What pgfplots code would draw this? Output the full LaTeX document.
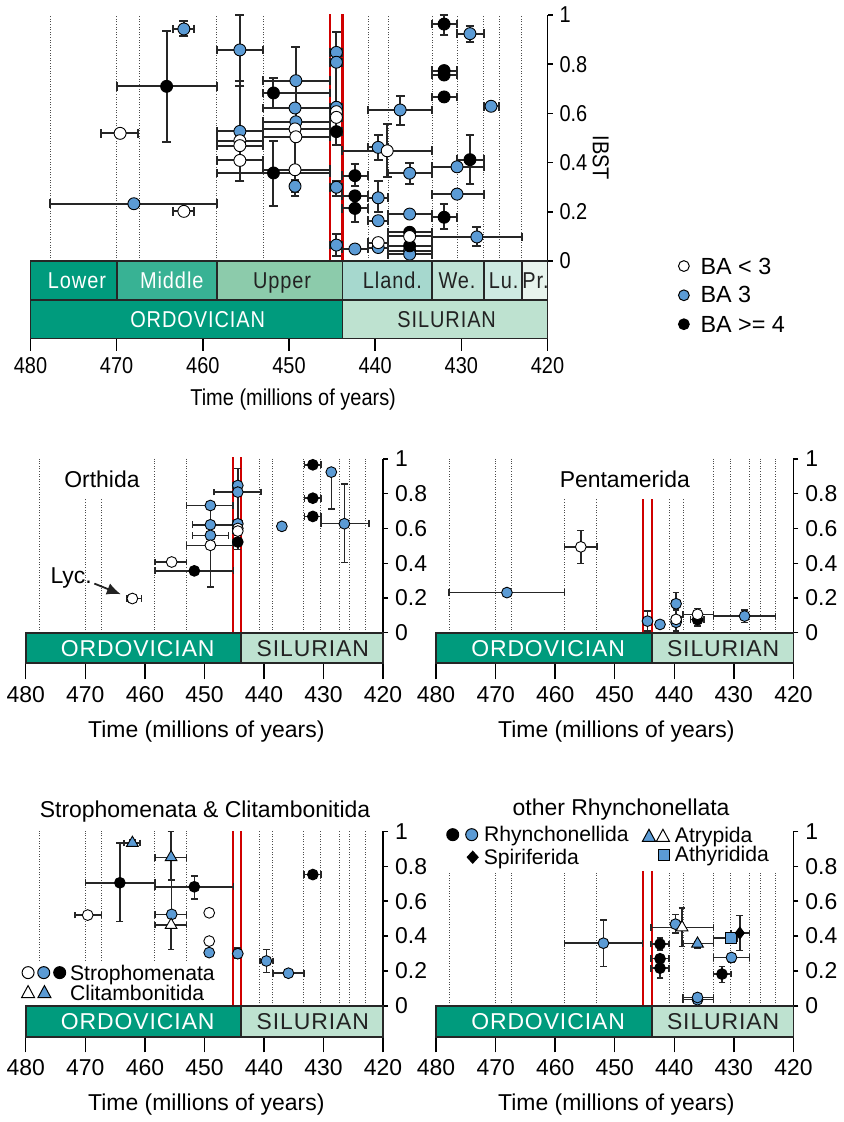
\documentclass[border=0pt]{standalone}
\usepackage{fontspec}
\setmainfont{Liberation Sans}
\newfontfamily\condfont[FakeStretch=0.87]{Liberation Sans}
\newfontfamily\condspaced[FakeStretch=0.87,LetterSpace=4]{Liberation Sans}
\newfontfamily\spaced[LetterSpace=4]{Liberation Sans}
\usepackage{pgfplots}
\pgfplotsset{compat=1.18}
\usetikzlibrary{arrows.meta}

\definecolor{ba3}{HTML}{5B9BD5}
\definecolor{redline}{HTML}{D00000}
\definecolor{cLower}{HTML}{009B7D}
\definecolor{cMiddle}{HTML}{38B294}
\definecolor{cUpper}{HTML}{8CCBAB}
\definecolor{cLland}{HTML}{A6D8CE}
\definecolor{cWe}{HTML}{C0E3D6}
\definecolor{cLu}{HTML}{CEEAE2}
\definecolor{cPr}{HTML}{E8F4ED}
\definecolor{cOrd}{HTML}{009B7D}
\definecolor{cSil}{HTML}{BEE2D0}
\definecolor{dark}{HTML}{222222}

\newcommand{\fTop}{\condfont\fontsize{11.5}{13}\selectfont}
\newcommand{\fLow}{\fontsize{11.5}{13}\selectfont}
\newcommand{\fLeg}{\fontsize{10.6}{12}\selectfont}
\newcommand{\fBA}{\fontsize{11.7}{13}\selectfont}
\newcommand{\tbfont}{\fLow}

\tikzset{
  dotl/.style={black!70, line width=0.5pt, dash pattern=on 0.5pt off 0.8pt},
  redl/.style={redline, line width=1.1pt},
}
% dotted stage boundaries and red Hirnantian lines (drawn in axis cs)
\newcommand{\vl}[3]{\draw[dotl] (axis cs:#1,#2) -- (axis cs:#1,#3);}
\newcommand{\rl}[2]{\draw[redl] (axis cs:445.2,#1) -- (axis cs:445.2,#2);
  \draw[redl] (axis cs:443.8,#1) -- (axis cs:443.8,#2);}
% time-scale box: old, young, ylo, yhi, fill, text colour, text x, label
\newcommand{\tbox}[8]{\filldraw[fill=#5, draw=black!85, line width=0.9pt]
  (axis cs:#1,#3) rectangle (axis cs:#2,#4);
  \node[text=#6, font=\tbfont, anchor=base, yshift=-4.1pt, inner sep=0pt]
  at (axis cs:#7,{(#3+#4)/2}) {#8};}

\pgfplotsset{
  /pgfplots/table/rng/.style={x=t, y=v,
    x error plus expr=\thisrow{a}-\thisrow{t},
    x error minus expr=\thisrow{t}-\thisrow{b},
    y error plus expr=\thisrow{h}-\thisrow{v},
    y error minus expr=\thisrow{v}-\thisrow{l}},
  eb/.style 2 args={
    error bars/x dir=both, error bars/x explicit,
    error bars/y dir=both, error bars/y explicit,
    error bars/error bar style={line width=#1, black!85},
    error bars/error mark options={rotate=90, line width=#1, black!85, mark size=#2}},
  ebT/.style={eb={1pt}{2.2pt}},
  ebL/.style={eb={0.75pt}{1.7pt}},
  pt/.style n args={3}{only marks, mark=#1, mark size=#2,
    mark options={fill=#3, draw=black, line width=0.45pt}},
  ibst/.style={
    scale only axis, clip=false,
    x dir=reverse, xmin=420, xmax=480, ymin=0, ymax=1,
    axis x line=none, axis y line*=right,
    y axis line style={-, line width=0.7pt, black},
    ytick={0,0.2,0.4,0.6,0.8,1}, xtick=\empty,
    tick align=outside, major tick length=2.5pt,
    ytick style={line width=0.7pt, black},
    /pgf/number format/assume math mode=true,
  },
  tscale/.style={
    scale only axis, clip=false,
    x dir=reverse, xmin=420, xmax=480, ymin=0, ymax=#1,
    axis y line=none, axis x line*=bottom,
    x axis line style={-, draw=none},
    xtick={420,430,440,450,460,470,480}, ytick=\empty,
    tick align=outside,
    xtick style={line width=0.7pt, black},
    /pgf/number format/assume math mode=true,
  },
}

\begin{document}
\begin{tikzpicture}
\begin{scope}[x=0.5pt,y=-0.5pt]
\path[use as bounding box] (0,0) rectangle (834,1122);
\end{scope}

%================ TOP PANEL =================
\begin{axis}[ibst, at={(13.35pt,-130.85pt)}, anchor=south west,
  width=259.15pt, height=123.35pt, yticklabel style={font=\fTop}]
\vl{477.7}{0}{1}\vl{470.0}{0}{1}\vl{467.3}{0}{1}\vl{458.4}{0}{1}\vl{453.0}{0}{1}
\vl{440.8}{0}{1}\vl{438.5}{0}{1}\vl{433.4}{0}{1}\vl{430.5}{0}{1}
\vl{427.4}{0}{1}\vl{425.6}{0}{1}\vl{423.0}{0}{1}
\rl{0}{1.005}
\addplot[pt={*}{3pt}{ba3}, ebT] table[rng] {
t v a b h l
462.2 0.943 463.5 461.0 0.975 0.913
468.0 0.233 477.7 458.4 0.233 0.233
455.7 0.858 458.4 453.0 1.000 0.713
455.7 0.527 458.4 453.0 0.527 0.527
449.2 0.733 453.0 445.2 0.869 0.566
449.3 0.622 453.0 445.2 0.622 0.622
449.2 0.566 453.0 445.2 0.566 0.566
449.3 0.304 449.3 449.3 0.330 0.280
444.5 0.848 445.2 443.8 0.930 0.808
444.5 0.808 445.2 443.8 0.808 0.625
444.5 0.625 445.2 443.8 0.625 0.625
444.5 0.300 445.2 443.8 0.326 0.265
444.5 0.065 445.2 443.8 0.110 0.020
442.35 0.049 443.8 440.8 0.049 0.049
439.65 0.462 440.8 438.5 0.512 0.412
439.65 0.257 440.8 438.5 0.326 0.198
439.65 0.164 440.8 438.5 0.164 0.164
439.65 0.055 440.8 438.5 0.055 0.055
437.1 0.614 440.8 433.4 0.672 0.553
436.0 0.357 438.5 433.4 0.398 0.313
436.0 0.191 438.5 433.4 0.191 0.191
436.0 0.042 438.5 433.4 0.042 0.042
436.0 0.028 438.5 433.4 0.028 0.028
429.0 0.924 430.5 427.4 0.957 0.890
426.55 0.629 427.4 425.6 0.629 0.629
430.5 0.383 433.4 427.4 0.383 0.383
430.5 0.272 433.4 427.4 0.272 0.272
428.2 0.098 433.4 423.0 0.140 0.060
};
\addplot[pt={*}{3pt}{black}, ebT] table[rng] {
t v a b h l
464.2 0.710 470.0 458.4 0.936 0.485
451.8 0.683 453.0 445.2 0.744 0.622
451.8 0.358 458.4 445.2 0.489 0.222
444.5 0.526 445.2 443.8 0.600 0.470
442.35 0.347 443.8 440.8 0.394 0.306
442.35 0.265 443.8 440.8 0.265 0.265
442.35 0.214 443.8 440.8 0.265 0.160
436.0 0.117 438.5 433.4 0.117 0.117
436.0 0.062 438.5 433.4 0.062 0.062
432.0 0.963 433.4 430.5 1.000 0.920
432.0 0.774 433.4 430.5 0.774 0.774
432.0 0.756 433.4 430.5 0.756 0.756
432.0 0.667 433.4 430.5 0.667 0.667
429.0 0.412 430.5 427.4 0.512 0.313
432.0 0.178 433.4 430.5 0.230 0.130
};
\addplot[pt={*}{3pt}{white}, ebT] table[rng] {
t v a b h l
469.6 0.519 471.8 467.5 0.519 0.519
462.2 0.202 463.5 461.0 0.202 0.202
455.7 0.489 458.4 453.0 0.733 0.326
455.7 0.469 458.4 453.0 0.469 0.469
455.7 0.409 458.4 453.0 0.409 0.409
449.3 0.537 453.0 445.2 0.537 0.537
449.2 0.505 453.0 445.2 0.505 0.505
449.3 0.371 453.0 445.2 0.537 0.266
444.5 0.607 445.2 443.8 0.607 0.607
444.5 0.584 445.2 443.8 0.584 0.584
438.6 0.448 443.8 433.4 0.557 0.340
439.65 0.075 440.8 438.5 0.075 0.075
436.0 0.100 438.5 433.4 0.100 0.100
};
\end{axis}

\renewcommand{\tbfont}{\fTop}
\begin{axis}[tscale=2, at={(13.35pt,-169.65pt)}, anchor=south west,
  width=259.15pt, height=38.8pt, major tick length=6.2pt,
  xticklabel style={font=\fTop}]
\tbox{480}{470}{1}{2}{cLower}{white}{474.6}{Lower}
\tbox{470}{458.4}{1}{2}{cMiddle}{white}{463.6}{Middle}
\tbox{458.4}{443.8}{1}{2}{cUpper}{dark}{450.8}{Upper}
\tbox{443.8}{433.4}{1}{2}{cLland}{dark}{438.0}{Lland.}
\tbox{433.4}{427.4}{1}{2}{cWe}{dark}{430.5}{We.}
\tbox{427.4}{423.0}{1}{2}{cLu}{dark}{425.1}{Lu.}
\tbox{423.0}{420}{1}{2}{cPr}{dark}{421.4}{Pr.}
\renewcommand{\tbfont}{\condspaced\fontsize{11.5}{13}\selectfont}
\tbox{480}{443.8}{0}{1}{cOrd}{white}{460.6}{ORDOVICIAN}
\tbox{443.8}{420}{0}{1}{cSil}{dark}{431.7}{SILURIAN}
\end{axis}

%================ ORTHIDA =================
\begin{axis}[ibst, at={(11pt,-317.15pt)}, anchor=south west,
  width=179.1pt, height=87.15pt, yticklabel style={font=\fLow}]
\vl{477.7}{0}{1}\vl{470.0}{0}{0.77}\vl{467.3}{0}{0.77}\vl{458.4}{0}{1}\vl{453.0}{0}{1}
\vl{440.8}{0}{1}\vl{438.5}{0}{1}\vl{433.4}{0}{1}\vl{430.5}{0}{1}
\vl{427.4}{0}{1}\vl{425.6}{0}{1}\vl{423.0}{0}{1}
\rl{0}{1.01}
\addplot[pt={*}{2.7pt}{ba3}, ebL] table[rng] {
t v a b h l
449.0 0.732 453.0 445.2 0.732 0.732
449.0 0.621 452.0 445.0 0.732 0.621
449.0 0.560 452.0 446.0 0.560 0.560
444.4 0.847 445.2 443.8 0.946 0.847
444.4 0.809 448.4 440.5 0.809 0.600
444.4 0.627 445.2 443.6 0.627 0.627
437.0 0.612 437.0 437.0 0.612 0.612
428.7 0.924 428.7 428.7 0.946 0.713
426.5 0.627 430.4 422.4 0.857 0.403
};
\addplot[pt={*}{2.7pt}{black}, ebL] table[rng] {
t v a b h l
451.7 0.356 458.3 445.1 0.356 0.356
444.4 0.522 445.2 443.8 0.560 0.480
431.8 0.966 433.2 430.4 0.990 0.945
431.8 0.774 433.2 430.4 0.774 0.774
431.8 0.669 433.2 430.4 0.669 0.669
};
\addplot[pt={*}{2.7pt}{white}, ebL] table[rng] {
t v a b h l
462.1 0.197 463.0 460.6 0.197 0.197
455.5 0.407 458.3 453.0 0.407 0.407
449.0 0.503 453.0 445.1 0.503 0.264
444.4 0.600 445.2 443.8 0.600 0.600
444.4 0.585 445.2 443.8 0.585 0.585
};
\end{axis}

%================ PENTAMERIDA =================
\begin{axis}[ibst, at={(216.65pt,-317.15pt)}, anchor=south west,
  width=179.1pt, height=87.15pt, yticklabel style={font=\fLow}]
\vl{477.7}{0}{1}\vl{470.0}{0}{1}\vl{467.3}{0}{1}\vl{458.4}{0}{0.77}\vl{453.0}{0}{0.77}
\vl{440.8}{0}{0.77}\vl{438.5}{0}{0.77}\vl{433.4}{0}{1}\vl{430.5}{0}{1}
\vl{427.4}{0}{1}\vl{425.6}{0}{1}\vl{423.0}{0}{1}
\rl{0}{0.77}
\addplot[pt={*}{2.7pt}{ba3}, ebL] table[rng] {
t v a b h l
468.1 0.231 477.8 458.4 0.231 0.231
444.5 0.067 444.5 444.5 0.125 0.010
442.4 0.048 442.4 442.4 0.048 0.048
439.7 0.060 439.7 439.7 0.060 0.060
439.7 0.167 440.4 439.0 0.231 0.130
428.2 0.096 433.4 423.0 0.130 0.060
};
\addplot[pt={*}{2.7pt}{black}, ebL] table[rng] {
t v a b h l
436.1 0.075 437.3 435.0 0.120 0.040
};
\addplot[pt={*}{2.7pt}{white}, ebL] table[rng] {
t v a b h l
455.7 0.494 458.4 452.95 0.587 0.398
439.7 0.077 440.5 438.9 0.140 0.010
436.1 0.106 438.5 433.4 0.140 0.070
};
\end{axis}

%================ STROPHOMENATA =================
\begin{axis}[ibst, at={(11pt,-504.15pt)}, anchor=south west,
  width=179.1pt, height=87.5pt, yticklabel style={font=\fLow}]
\vl{477.7}{0.257}{1}\vl{470.0}{0.257}{1}\vl{467.3}{0.257}{1}\vl{458.4}{0.257}{1}\vl{453.0}{0.257}{1}
\vl{440.8}{0}{1}\vl{438.5}{0}{1}\vl{433.4}{0}{1}\vl{430.5}{0}{1}
\vl{427.4}{0}{1}\vl{425.6}{0}{1}\vl{423.0}{0}{1}
\rl{0}{1}
\addplot[pt={*}{2.7pt}{ba3}, ebL] table[rng] {
t v a b h l
455.5 0.524 458.3 453.0 0.720 0.463
449.2 0.305 449.2 449.2 0.305 0.305
444.4 0.299 444.4 444.4 0.330 0.270
439.6 0.257 440.7 438.5 0.324 0.190
435.9 0.187 438.5 433.3 0.187 0.187
};
\addplot[pt={*}{2.7pt}{black}, ebL] table[rng] {
t v a b h l
464.2 0.705 470.0 458.3 0.933 0.482
451.7 0.682 458.3 445.1 0.743 0.613
431.8 0.752 433.3 430.4 0.752 0.752
};
\addplot[pt={*}{2.7pt}{white}, ebL] table[rng] {
t v a b h l
469.6 0.520 471.7 467.3 0.520 0.520
449.2 0.533 449.2 449.2 0.533 0.533
449.2 0.371 449.2 449.2 0.371 0.371
};
\addplot[pt={triangle*}{3.4pt}{ba3}, ebL] table[rng] {
t v a b h l
462.1 0.933 463.5 460.8 0.950 0.920
455.6 0.851 458.3 453.0 1.000 0.720
};
\addplot[pt={triangle*}{3.4pt}{white}, ebL] table[rng] {
t v a b h l
455.6 0.463 458.3 453.0 0.463 0.324
};
\end{axis}

%================ OTHER RHYNCHONELLATA =================
\begin{axis}[ibst, at={(216.65pt,-504.15pt)}, anchor=south west,
  width=179.1pt, height=87.5pt, yticklabel style={font=\fLow}]
\vl{477.7}{0}{0.77}\vl{470.0}{0}{0.77}\vl{467.3}{0}{0.77}\vl{458.4}{0}{0.77}\vl{453.0}{0}{0.77}
\vl{440.8}{0}{0.77}\vl{438.5}{0}{0.77}\vl{433.4}{0}{0.77}\vl{430.5}{0}{0.77}
\vl{427.4}{0}{0.77}\vl{425.6}{0}{0.77}\vl{423.0}{0}{0.77}
\rl{0}{0.77}
\addplot[pt={*}{2.7pt}{ba3}, ebL] table[rng] {
t v a b h l
451.9 0.359 458.4 445.35 0.493 0.226
439.8 0.468 440.5 439.0 0.522 0.417
436.1 0.035 438.5 433.4 0.035 0.035
436.1 0.048 438.5 433.4 0.048 0.048
430.4 0.277 433.4 427.4 0.300 0.250
};
\addplot[pt={*}{2.7pt}{black}, ebL] table[rng] {
t v a b h l
442.4 0.354 443.9 440.9 0.390 0.320
442.4 0.270 443.9 440.9 0.270 0.270
442.4 0.216 443.9 440.9 0.216 0.160
432.0 0.182 433.4 430.5 0.226 0.134
};
\addplot[pt={triangle*}{3.4pt}{white}, ebL] table[rng] {
t v a b h l
438.7 0.449 443.9 433.4 0.560 0.340
};
\addplot[pt={triangle*}{3.4pt}{ba3}, ebL] table[rng] {
t v a b h l
436.1 0.356 438.5 433.4 0.370 0.330
};
\addplot[pt={square*}{2.7pt}{ba3}, ebL] table[rng] {
t v a b h l
430.5 0.388 433.4 429.5 0.388 0.388
};
\addplot[pt={diamond*}{3pt}{black}, ebL] table[rng] {
t v a b h l
429.0 0.417 430.5 427.4 0.518 0.317
};
\end{axis}

%================ time scales of the lower panels =================
\renewcommand{\tbfont}{\spaced\fontsize{11.5}{13}\selectfont}
\begin{axis}[tscale=1, at={(11pt,-332.5pt)}, anchor=south west,
  width=179.1pt, height=15.35pt, major tick length=8pt, xticklabel style={font=\fLow}]
\tbox{480}{443.8}{0}{1}{cOrd}{white}{461.2}{ORDOVICIAN}
\tbox{443.8}{420}{0}{1}{cSil}{dark}{431.8}{SILURIAN}
\end{axis}
\begin{axis}[tscale=1, at={(216.65pt,-332.5pt)}, anchor=south west,
  width=179.1pt, height=15.35pt, major tick length=8pt, xticklabel style={font=\fLow}]
\tbox{480}{443.8}{0}{1}{cOrd}{white}{461.2}{ORDOVICIAN}
\tbox{443.8}{420}{0}{1}{cSil}{dark}{431.8}{SILURIAN}
\end{axis}
\begin{axis}[tscale=1, at={(11pt,-519.65pt)}, anchor=south west,
  width=179.1pt, height=15.5pt, major tick length=7.85pt, xticklabel style={font=\fLow}]
\tbox{480}{443.8}{0}{1}{cOrd}{white}{461.2}{ORDOVICIAN}
\tbox{443.8}{420}{0}{1}{cSil}{dark}{431.8}{SILURIAN}
\end{axis}
\begin{axis}[tscale=1, at={(216.65pt,-519.65pt)}, anchor=south west,
  width=179.1pt, height=15.5pt, major tick length=7.85pt, xticklabel style={font=\fLow}]
\tbox{480}{443.8}{0}{1}{cOrd}{white}{461.2}{ORDOVICIAN}
\tbox{443.8}{420}{0}{1}{cSil}{dark}{431.8}{SILURIAN}
\end{axis}

%================ texts and legends (pixel units) =================
\begin{scope}[x=0.5pt,y=-0.5pt]
\node[font=\fTop, anchor=base] at (290,406.7) {Time (millions of years)};
\node[font=\fLow, anchor=base] at (203,739.3) {Time (millions of years)};
\node[font=\fLow, anchor=base] at (614,739.3) {Time (millions of years)};
\node[font=\fLow, anchor=base] at (203,1113.3) {Time (millions of years)};
\node[font=\fLow, anchor=base] at (614,1113.3) {Time (millions of years)};
\node[font=\fTop, rotate=-90] at (598.3,158.3) {IBST};

\node[font=\fLow, anchor=base] at (98.3,488.3) {Orthida};
\node[font=\fLow, anchor=base] at (622.5,488.3) {Pentamerida};
\node[font=\fLow, anchor=base] at (201.7,819.3) {Strophomenata \& Clitambonitida};
\node[font=\fLow, anchor=base] at (618.8,817.7) {other Rhynchonellata};
\node[font=\fLow, anchor=base] at (67.5,585) {Lyc.};
\draw[-{Latex[length=7pt,width=6pt]}, line width=0.9pt, dark] (90.7,585) -- (117.3,595.7);

% top legend
\draw[fill=white, line width=0.5pt] (681.7,266.7) circle (2.7pt);
\draw[fill=ba3, line width=0.5pt] (681.7,296) circle (2.7pt);
\draw[fill=black, line width=0.5pt] (681.7,325) circle (2.7pt);
\node[font=\fBA, anchor=base west, inner sep=0pt] at (698,275) {BA < 3};
\node[font=\fBA, anchor=base west, inner sep=0pt] at (698,303.3) {BA 3};
\node[font=\fBA, anchor=base west, inner sep=0pt] at (698,333.3) {BA >= 4};

% Strophomenata legend
\draw[fill=white, line width=0.5pt] (24.3,975) circle (3pt);
\draw[fill=ba3, line width=0.5pt] (40,975) circle (3pt);
\draw[fill=black, line width=0.5pt] (56,975) circle (3pt);
\draw[fill=white, line width=0.5pt] (24.3,988) -- (17.8,1000) -- (30.8,1000) -- cycle;
\draw[fill=ba3, line width=0.5pt] (40.7,988) -- (34.2,1000) -- (47.2,1000) -- cycle;
\node[font=\fLeg, anchor=base west, inner sep=0pt] at (66,982.5) {Strophomenata};
\node[font=\fLeg, anchor=base west, inner sep=0pt] at (66,1002.5) {Clitambonitida};

% other Rhynchonellata legend
\draw[fill=black, line width=0.5pt] (450,836.7) circle (3pt);
\draw[fill=ba3, line width=0.5pt] (469,836.7) circle (3pt);
\draw[fill=black, line width=0.5pt] (470,853.3) -- (475.5,859.3) -- (470,865.3) -- (464.5,859.3) -- cycle;
\draw[fill=ba3, line width=0.5pt] (646.7,831.3) -- (640.2,843.3) -- (653.2,843.3) -- cycle;
\draw[fill=white, line width=0.5pt] (660.7,831.3) -- (654.2,843.3) -- (667.2,843.3) -- cycle;
\draw[fill=ba3, line width=0.5pt] (656.2,851.8) rectangle (667.2,862.8);
\node[font=\fLeg, anchor=base west, inner sep=0pt] at (481,844) {Rhynchonellida};
\node[font=\fLeg, anchor=base west, inner sep=0pt] at (480.7,866.5) {Spiriferida};
\node[font=\fLeg, anchor=base west, inner sep=0pt] at (672.3,845) {Atrypida};
\node[font=\fLeg, anchor=base west, inner sep=0pt] at (672.3,864) {Athyridida};
\end{scope}
\end{tikzpicture}
\end{document}
